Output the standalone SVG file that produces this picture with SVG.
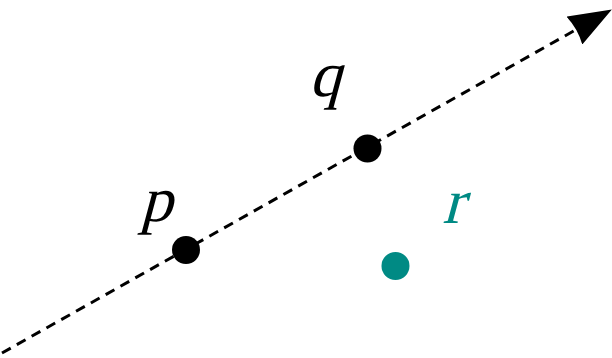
<svg xmlns="http://www.w3.org/2000/svg" width="612" height="358" viewBox="0 0 612 358">
<defs>
<style>
.lbl{font-family:'Liberation Serif','Times New Roman',serif;font-size:64px;text-anchor:middle}
</style>
<marker id="arr" markerUnits="userSpaceOnUse" markerWidth="44" markerHeight="32" refX="0" refY="16" orient="auto" viewBox="0 0 44 32">
<path d="M0,0 L43,16 L0,32 Q4,16 0,0 z" fill="#000"/>
</marker>
</defs>
<rect width="612" height="358" fill="#fff"/>
<g id="connectors">
<line x1="2" y1="353" x2="574.4" y2="30.6" stroke="#000" stroke-width="3" stroke-dasharray="10 7" marker-end="url(#arr)"/>
</g>
<g id="p"><circle cx="186" cy="250" r="14" fill="#000"/><text class="lbl" transform="translate(156,221) skewX(-15)">p</text></g>
<g id="q"><circle cx="367.5" cy="148.5" r="14" fill="#000"/><text class="lbl" transform="translate(325,96) skewX(-15)">q</text></g>
<g id="r"><circle cx="395.5" cy="266" r="14" fill="#008a84"/><text class="lbl" transform="translate(453,223) skewX(-15)" fill="#008a84">r</text></g>
</svg>
